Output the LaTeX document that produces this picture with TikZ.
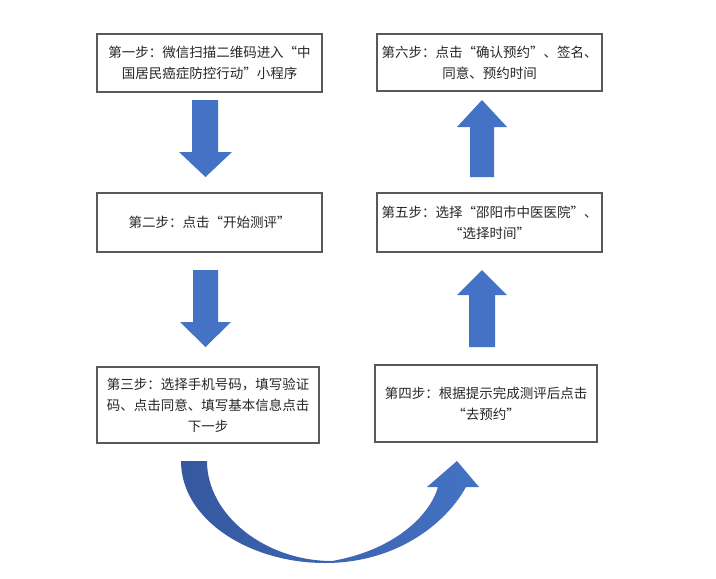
\documentclass[tikz,border=0pt]{standalone}
\usepackage{fontspec}
\setmainfont{Noto Sans CJK SC}
\definecolor{arrblue}{HTML}{4472C4}
\definecolor{arrdark}{HTML}{3558A0}
\definecolor{boxline}{HTML}{595959}
\definecolor{txt}{HTML}{262626}
\begin{document}
\begin{tikzpicture}[x=1pt,y=-1pt,
  stepbox/.style={draw=boxline,line width=1.3pt,fill=white,align=center,
    inner sep=0pt,text=txt,font=\fontsize{13.5}{21}\selectfont},
  blockarr/.style={fill=arrblue}]
\useasboundingbox (0,0) rectangle (716,579);
\fill[white] (0,0) rectangle (716,579);
% boxes
\node[stepbox,minimum width=225,minimum height=58] (b1) at (209.5,63)
  {第一步：微信扫描二维码进入“中\\国居民癌症防控行动”小程序};
\node[stepbox,minimum width=225,minimum height=59] (b2) at (209.5,222.5)
  {第二步：点击“开始测评”};
\node[stepbox,minimum width=222,minimum height=76] (b3) at (208,405)
  {第三步：选择手机号码，填写验证\\码、点击同意、填写基本信息点击\\下一步};
\node[stepbox,minimum width=222,minimum height=77] (b4) at (486,403.5)
  {第四步：根据提示完成测评后点击\\“去预约”};
\node[stepbox,minimum width=225,minimum height=59] (b5) at (489.5,222.5)
  {第五步：选择“邵阳市中医医院”、\\“选择时间”};
\node[stepbox,minimum width=225,minimum height=57] (b6) at (489.5,62.5)
  {第六步：点击“确认预约”、签名、\\同意、预约时间};
% block arrows
\fill[blockarr] (192,100) -- (218,100) -- (218,152) -- (232,152) -- (205.5,177) -- (179,152) -- (192,152) -- cycle;
\fill[blockarr] (193,270) -- (218,270) -- (218,322) -- (231,322) -- (205.5,347) -- (180,322) -- (193,322) -- cycle;
\fill[blockarr] (470,177) -- (494,177) -- (494,127) -- (507,127) -- (482,100) -- (457,127) -- (470,127) -- cycle;
\fill[blockarr] (469,347) -- (495,347) -- (495,295) -- (507,295) -- (482,270) -- (457,295) -- (469,295) -- cycle;
% curved arrow
\shade[left color=arrdark,right color=arrblue]
  (181,461) .. controls (181,520) and (250,563) .. (325,563)
  .. controls (395,563) and (445,525) .. (466,487)
  -- (479,487) -- (457,461) -- (427,487) -- (438,487)
  .. controls (430,515) and (395,550) .. (332,561)
  .. controls (265,561) and (207,515) .. (207,461) -- cycle;
\end{tikzpicture}
\end{document}
